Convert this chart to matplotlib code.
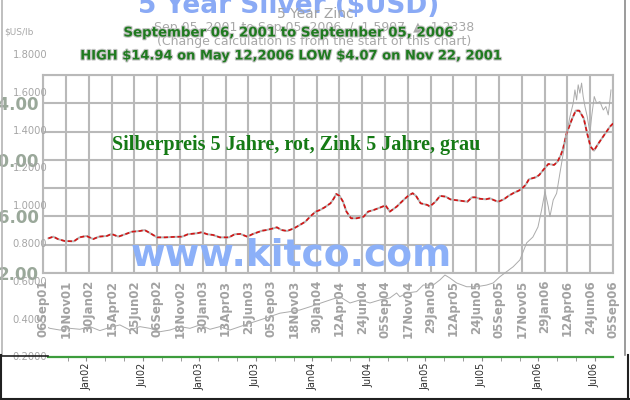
import matplotlib
matplotlib.use("Agg")
import matplotlib.pyplot as plt
import matplotlib.patheffects as pe
from matplotlib.lines import Line2D
from datetime import datetime

W, H = 630, 400

# silver (left chart, $/oz) - weekly values
silver_year = [2001.727, 2001.77, 2001.81, 2001.87, 2001.95, 2002.00, 2002.06, 2002.12,
               2002.17, 2002.24, 2002.28, 2002.34, 2002.40, 2002.46, 2002.53, 2002.57,
               2002.62, 2002.68, 2002.75, 2002.82, 2002.90, 2002.95, 2003.03, 2003.07,
               2003.12, 2003.17, 2003.23, 2003.31, 2003.36, 2003.41, 2003.47, 2003.52,
               2003.60, 2003.64, 2003.70, 2003.73, 2003.77, 2003.82, 2003.88, 2003.93,
               2003.98, 2004.02, 2004.07, 2004.11, 2004.15, 2004.20, 2004.23, 2004.25,
               2004.28, 2004.31, 2004.34, 2004.38, 2004.43, 2004.49, 2004.53, 2004.58,
               2004.62, 2004.67, 2004.68, 2004.72, 2004.78, 2004.84, 2004.88, 2004.92,
               2004.95, 2004.99, 2005.05, 2005.07, 2005.12, 2005.16, 2005.21, 2005.25,
               2005.29, 2005.34, 2005.40, 2005.44, 2005.47, 2005.51, 2005.56, 2005.60,
               2005.63, 2005.67, 2005.72, 2005.76, 2005.81, 2005.85, 2005.88, 2005.91,
               2005.94, 2006.00, 2006.03, 2006.07, 2006.11, 2006.16, 2006.19, 2006.22,
               2006.24, 2006.27, 2006.32, 2006.35, 2006.38, 2006.42, 2006.45, 2006.48,
               2006.51, 2006.54, 2006.57, 2006.61, 2006.65, 2006.68]
silver_price = [4.45, 4.57, 4.40, 4.26, 4.24, 4.52, 4.62, 4.40,
                4.57, 4.62, 4.76, 4.57, 4.74, 4.92, 4.97, 5.04,
                4.81, 4.52, 4.52, 4.55, 4.57, 4.74, 4.81, 4.88,
                4.74, 4.69, 4.52, 4.52, 4.74, 4.76, 4.57, 4.76,
                4.99, 5.04, 5.16, 5.23, 5.04, 4.97, 5.16, 5.39,
                5.63, 5.98, 6.34, 6.46, 6.65, 6.93, 7.28, 7.59,
                7.45, 7.04, 6.34, 5.87, 5.87, 5.98, 6.34, 6.46,
                6.58, 6.74, 6.81, 6.34, 6.69, 7.16, 7.45, 7.64,
                7.45, 6.93, 6.81, 6.70, 7.04, 7.45, 7.40, 7.21,
                7.16, 7.11, 7.04, 7.35, 7.35, 7.25, 7.21, 7.28,
                7.16, 7.04, 7.21, 7.45, 7.68, 7.82, 7.99, 8.22,
                8.63, 8.77, 8.93, 9.33, 9.71, 9.64, 9.87, 10.35,
                10.82, 11.88, 12.94, 13.48, 13.48, 12.94, 11.88, 10.93,
                10.65, 11.05, 11.41, 11.88, 12.35, 12.59]
silver_ticks = ["06Sep01", "19Nov01", "30Jan02", "15Apr02", "25Jun02", "06Sep02",
                "18Nov02", "30Jan03", "13Apr03", "25Jun03", "05Sep03", "18Nov03",
                "30Jan04", "12Apr04", "24Jun04", "05Sep04", "17Nov04", "29Jan05",
                "12Apr05", "24Jun05", "05Sep05", "17Nov05", "29Jan06", "12Apr06",
                "24Jun06", "05Sep06"]
silver_grid = [2, 4, 6, 8, 10, 12, 14, 16]
silver_labels = ["2.00", "", "6.00", "", "10.00", "", "14.00", ""]

# zinc (overlaid chart, $US/lb)
zinc_year = [2001.604, 2001.677, 2001.765, 2001.854, 2001.942, 2002.031, 2002.119, 2002.208,
             2002.296, 2002.385, 2002.473, 2002.562, 2002.650, 2002.739, 2002.827, 2002.916,
             2003.004, 2003.093, 2003.181, 2003.270, 2003.358, 2003.447, 2003.535, 2003.624,
             2003.712, 2003.801, 2003.889, 2003.978, 2004.066, 2004.155, 2004.243, 2004.332,
             2004.420, 2004.509, 2004.597, 2004.686, 2004.745, 2004.774, 2004.834, 2004.922,
             2004.981, 2005.069, 2005.128, 2005.173, 2005.217, 2005.276, 2005.365, 2005.453,
             2005.542, 2005.600, 2005.659, 2005.719, 2005.777, 2005.836, 2005.896, 2005.951,
             2005.996, 2006.028, 2006.058, 2006.087, 2006.102, 2006.131, 2006.161, 2006.190,
             2006.220, 2006.250, 2006.279, 2006.308, 2006.323, 2006.338, 2006.352, 2006.367,
             2006.382, 2006.396, 2006.412, 2006.432, 2006.456, 2006.471, 2006.494, 2006.515,
             2006.544, 2006.574, 2006.597, 2006.618, 2006.633, 2006.642]
zinc_price = [0.367, 0.349, 0.340, 0.349, 0.344, 0.358, 0.337, 0.354,
              0.367, 0.340, 0.358, 0.349, 0.331, 0.340, 0.358, 0.349,
              0.367, 0.344, 0.358, 0.340, 0.358, 0.376, 0.393, 0.411,
              0.429, 0.437, 0.446, 0.463, 0.481, 0.499, 0.516, 0.483,
              0.499, 0.483, 0.499, 0.510, 0.536, 0.516, 0.536, 0.543,
              0.578, 0.578, 0.605, 0.631, 0.615, 0.589, 0.569, 0.569,
              0.578, 0.589, 0.622, 0.649, 0.675, 0.711, 0.801, 0.832,
              0.885, 0.975, 1.072, 0.993, 0.940, 1.028, 1.063, 1.169,
              1.275, 1.381, 1.469, 1.540, 1.610, 1.557, 1.637, 1.593,
              1.646, 1.575, 1.522, 1.469, 1.381, 1.469, 1.575, 1.540,
              1.548, 1.504, 1.522, 1.478, 1.557, 1.610]
zinc_xlim = (2001.66, 2006.66)
zinc_months = ["Jan02", "Jul02", "Jan03", "Jul03", "Jan04", "Jul04",
               "Jan05", "Jul05", "Jan06", "Jul06"]
zinc_yticks = [0.2, 0.4, 0.6, 0.8, 1.0, 1.2, 1.4, 1.6, 1.8]


def box(x0, y0, x1, y1):
    return [x0 / W, 1 - y1 / H, (x1 - x0) / W, (y1 - y0) / H]


def fx(x):
    return x / W


def fy(y):
    return 1 - y / H


def dec_year(s):
    d = datetime.strptime(s, "%d%b%y")
    n = (datetime(d.year + 1, 1, 1) - datetime(d.year, 1, 1)).days
    return d.year + (d - datetime(d.year, 1, 1)).days / n


def month_year(s):
    d = datetime.strptime("01" + s, "%d%b%y")
    return d.year + (d.month - 1) / 12


fig = plt.figure(figsize=(W / 100, H / 100), dpi=100)
fig.patch.set_facecolor("white")

grid_col = "#b9b9b9"
tick_pos = [dec_year(s) for s in silver_ticks]

# --- silver chart ---
ax = fig.add_axes(box(43, 75, 613, 273))
ax.set_facecolor("white")
ax.set_xlim(tick_pos[0], tick_pos[-1])
ax.set_ylim(2, 16)
ax.set_xticks(tick_pos)
ax.set_xticklabels(silver_ticks, rotation=90, fontsize=8.5, fontweight="bold",
                   color="#a2a2a2", va="top", ha="center")
ax.set_yticks(silver_grid)
ax.set_yticklabels(silver_labels, fontsize=12, fontweight="bold", color="#9aa89a")
ax.tick_params(length=0)
ax.tick_params(axis="x", pad=5)
ax.tick_params(axis="y", pad=3)
ax.grid(True, color=grid_col, lw=1.5)
for sp in ax.spines.values():
    sp.set_color(grid_col)
    sp.set_linewidth(1.5)
ax.plot(silver_year, silver_price, color="#b4b4b4", lw=1.4, zorder=3)
ax.plot(silver_year, silver_price, color="#d41414", lw=1.2, dashes=(2.5, 1.6), zorder=4)

# --- zinc chart overlaid ---
zax = fig.add_axes(box(48, 54, 613, 356.5))
zax.patch.set_alpha(0)
zax.set_xlim(*zinc_xlim)
zax.set_ylim(0.2, 1.8)
for k in ["left", "right", "top"]:
    zax.spines[k].set_visible(False)
zax.spines["bottom"].set_color("#3c9c3c")
zax.spines["bottom"].set_linewidth(1.6)
zax.set_xticks([month_year(m) for m in zinc_months])
zax.set_xticklabels(zinc_months, rotation=90, fontsize=7, color="#303030")
minor = [2001 + 10 / 12] + [y + m / 12 for y in range(2002, 2007) for m in range(0, 12, 2)]
zax.set_xticks([m for m in minor if m < zinc_xlim[1]], minor=True)
zax.tick_params(axis="x", which="both", direction="out", length=3, color="#8a8a8a", pad=1.5)
zax.set_yticks(zinc_yticks)
zax.set_yticklabels(["%.4f" % v for v in zinc_yticks], fontsize=7.2, color="#a6a6a6")
zax.tick_params(axis="y", length=0, pad=0.5)
zax.plot(zinc_year, zinc_price, color="#ababab", lw=0.7)

# --- texts ---
fig.text(fx(289), fy(13), "5 Year Silver ($USD)", ha="center", va="baseline",
         fontsize=19, fontweight="bold", color="#8aaaf5", zorder=1)
fig.text(fx(315), fy(14), "5 Year Zinc", ha="center", va="center",
         fontsize=10, color="#a4a4a4", zorder=2)
fig.text(fx(314), fy(27), "Sep 05, 2001 to Sep 05, 2006  /  1.5997  \u25b2  1.2338",
         ha="center", va="center", fontsize=9, color="#a8a8a8", zorder=2)
fig.text(fx(314), fy(42), "(Change calculation is from the start of this chart)",
         ha="center", va="center", fontsize=9, color="#a8a8a8", zorder=2)
fig.text(fx(4), fy(32), r"\$US/lb", ha="left", va="center", fontsize=6.5, color="#a8a8a8")

halo = [pe.withStroke(linewidth=1.6, foreground="#c4c4c4")]
fig.text(fx(289), fy(33), "September 06, 2001 to September 05, 2006", ha="center",
         va="center", fontsize=9.6, fontweight="bold", color="#1f7a1f",
         path_effects=halo, zorder=3)
fig.text(fx(290), fy(56), r"HIGH \$14.94 on May 12,2006 LOW \$4.07 on Nov 22, 2001",
         ha="center", va="center", fontsize=9.4, fontweight="bold", color="#1f7a1f",
         path_effects=halo, zorder=3)
fig.text(fx(112), fy(145), "Silberpreis 5 Jahre, rot, Zink 5 Jahre, grau", ha="left",
         va="center", fontsize=14.5, fontweight="bold", family="Liberation Serif",
         color="#157a15", zorder=3)
fig.text(fx(291), fy(266), "www.kitco.com", ha="center", va="baseline", fontsize=27,
         fontweight="bold", color="#8cb0f8", zorder=3)


# frame lines of the pasted picture
def fline(xs, ys, c, lw):
    fig.add_artist(Line2D([fx(v) for v in xs], [fy(v) for v in ys], color=c, lw=lw))


fline([1.5, 1.5], [0, 355], "#b4b4b4", 1.2)
fline([625, 625], [0, 355], "#8a8a8a", 1.2)
fline([0, 48], [355.5, 355.5], "#202020", 1.2)
fline([0.8, 0.8], [355, 400], "#202020", 1.5)
fline([0, 630], [398.5, 398.5], "#202020", 1.5)
fline([627.5, 627.5], [355, 400], "#202020", 1.5)

fig.savefig("out.png", dpi=100)
